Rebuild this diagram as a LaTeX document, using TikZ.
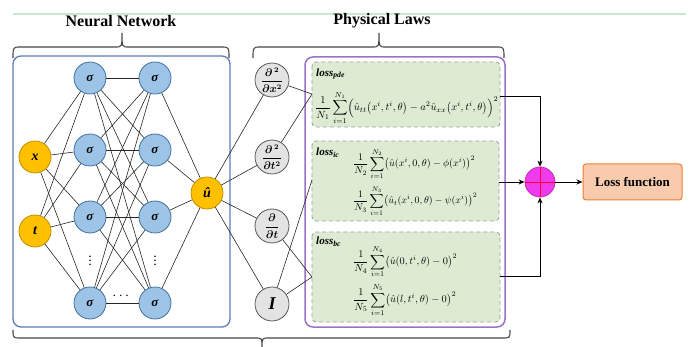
\documentclass[tikz,border=0pt]{standalone}
\usepackage{fontspec}
\setmainfont{Liberation Serif}
\usepackage{amsmath}
\usepackage{graphicx}
\usetikzlibrary{arrows.meta}
\definecolor{yelF}{HTML}{FFC000}
\definecolor{yelB}{HTML}{BF8F00}
\definecolor{sigF}{HTML}{9DC3E6}
\definecolor{sigB}{HTML}{41719C}
\definecolor{gryF}{HTML}{E3E3E3}
\definecolor{gryB}{HTML}{595959}
\definecolor{bluBox}{HTML}{5A7DB5}
\definecolor{purBox}{HTML}{9B72C8}
\definecolor{grnF}{HTML}{DDEBD3}
\definecolor{dashG}{HTML}{A0A0A0}
\definecolor{sumF}{HTML}{EE3BEE}
\definecolor{sumB}{HTML}{C030B0}
\definecolor{lossF}{HTML}{F8CBAD}
\definecolor{lossB}{HTML}{ED7D31}
\definecolor{brcC}{HTML}{454545}
\definecolor{topG}{HTML}{C8E8D2}
\begin{document}
\begin{tikzpicture}[x=1pt,y=-1pt,
  inp/.style={circle,draw=yelB,fill=yelF,line width=0.8pt,minimum size=32pt,inner sep=0pt,font=\fontsize{14}{14}\selectfont\bfseries\itshape},
  sig/.style={circle,draw=sigB,fill=sigF,line width=0.8pt,minimum size=32pt,inner sep=0pt,font=\fontsize{13}{13}\selectfont\bfseries\itshape},
  gnode/.style={circle,draw=gryB,fill=gryF,line width=0.8pt,minimum size=34pt,inner sep=0pt,font=\fontsize{10.5}{10.5}\selectfont\boldmath},
  conn/.style={draw=black!85,line width=0.6pt},
  gbox/.style={draw=dashG,dashed,dash pattern=on 4pt off 3pt,fill=grnF,rounded corners=4pt,line width=0.9pt},
  arr/.style={-{Stealth[length=6pt,width=5pt]},line width=0.9pt,draw=black},
  brc/.style={draw=brcC,line width=1.1pt},
  ttl/.style={font=\fontsize{16}{16}\selectfont\bfseries},
  lbl/.style={anchor=west,font=\fontsize{11}{11}\selectfont\bfseries\itshape,inner sep=0pt},
  frm/.style={anchor=west,inner sep=0pt},
  dots/.style={font=\fontsize{14}{14}\selectfont,inner sep=0pt}
]
\useasboundingbox (0,0) rectangle (693,347);
% top green line
\draw[topG,line width=1.4pt] (13,14) -- (686,14);
% titles
\node[ttl] (tnn) at (121,21) {Neural Network};
\node[ttl] (tpl) at (382,21) {Physical Laws};
% braces
\draw[brc] (13,58) .. controls (13,47) .. (21,47) -- (115,47) .. controls (122,47) .. (122,33)
           .. controls (122,47) .. (129,47) -- (221,47) .. controls (229,47) .. (229,58);
\draw[brc] (253,58) .. controls (253,47) .. (261,47) -- (372,47) .. controls (379,47) .. (379,33)
           .. controls (379,47) .. (386,47) -- (496,47) .. controls (504,47) .. (504,58);
\draw[brc] (13,330) .. controls (13,338) .. (21,338) -- (255,338) .. controls (262,338) .. (262,347)
           .. controls (262,338) .. (269,338) -- (502,338) .. controls (510,338) .. (510,330);
% frames
\draw[bluBox,line width=1.3pt,rounded corners=8pt] (13,56) rectangle (230,327);
\draw[purBox,line width=1.5pt,rounded corners=8pt] (305,57) rectangle (505,327);
% green boxes
\draw[gbox] (312,62) rectangle (500,127);
\draw[gbox] (312,141) rectangle (499,221);
\draw[gbox] (312,232) rectangle (500,322);
% network nodes
\node[inp] (x) at (35,157) {x};
\node[inp] (t) at (35,231) {t};
\foreach \i/\yy in {1/78,2/150,3/217,4/303}{
  \node[sig] (a\i) at (90,\yy) {σ};
  \node[sig] (b\i) at (155,\yy) {σ};
}
\node[dots] (vd1) at (90,258) {$\vdots$};
\node[dots] (vd2) at (155,258) {$\vdots$};
\node[dots] (hd) at (122,296) {$\cdots$};
\node[inp] (u) at (207,193) {û};
\foreach \i in {1,2,3,4}{
  \draw[conn] (x) -- (a\i);
  \draw[conn] (t) -- (a\i);
  \draw[conn] (b\i) -- (u);
  \foreach \j in {1,2,3,4}{ \draw[conn] (a\i) -- (b\j); }
}
% physics nodes
\node[gnode] (dxx) at (272,80) {$\dfrac{\partial^{\,2}}{\partial x^2}$};
\node[gnode] (dtt) at (272,157) {$\dfrac{\partial^{\,2}}{\partial t^2}$};
\node[gnode] (dt) at (272,226) {$\dfrac{\partial}{\partial t}$};
\node[gnode,font=\fontsize{18}{18}\selectfont\bfseries\itshape] (id) at (272,304) {I};
\foreach \n in {dxx,dtt,dt,id}{ \draw[conn] (u) -- (\n); }
\coordinate (P1) at (312,94);
\coordinate (P2) at (312,180);
\coordinate (P3) at (312,277);
\draw[conn] (dxx) -- (P1);
\draw[conn] (dtt) -- (P1);
\draw[conn] (dt) -- (P3);
\draw[conn] (id) -- (P3);
\draw[conn] (id) -- (P2);
% loss labels
\node[lbl] (lp) at (316,74) {loss\textsubscript{pde}};
\node[lbl] (li) at (316,153) {loss\textsubscript{ic}};
\node[lbl] (lb) at (316,242) {loss\textsubscript{bc}};
% formulas
\node[frm] (f1) at (315,108) {\resizebox{183pt}{!}{$\displaystyle \frac{1}{N_1}\sum_{i=1}^{N_1}\Bigl(\hat{u}_{tt}\bigl(x^i,t^i,\theta\bigr)-a^2\hat{u}_{xx}\bigl(x^i,t^i,\theta\bigr)\Bigr)^2$}};
\node[frm] (f2) at (353,164) {\resizebox{122pt}{!}{$\displaystyle \frac{1}{N_2}\sum_{i=1}^{N_2}\bigl(\hat{u}(x^i,0,\theta)-\phi(x^i)\bigr)^2$}};
\node[frm] (f3) at (353,201) {\resizebox{124pt}{!}{$\displaystyle \frac{1}{N_3}\sum_{i=1}^{N_3}\bigl(\hat{u}_t(x^i,0,\theta)-\psi(x^i)\bigr)^2$}};
\node[frm] (f4) at (353,262) {\resizebox{104pt}{!}{$\displaystyle \frac{1}{N_4}\sum_{i=1}^{N_4}\bigl(\hat{u}(0,t^i,\theta)-0\bigr)^2$}};
\node[frm] (f5) at (353,300) {\resizebox{103pt}{!}{$\displaystyle \frac{1}{N_5}\sum_{i=1}^{N_5}\bigl(\hat{u}(l,t^i,\theta)-0\bigr)^2$}};
% sum and loss
\node[circle,draw=sumB,fill=sumF,line width=0.8pt,minimum size=30pt,inner sep=0pt] (sum) at (540,182) {};
\draw[red!80!magenta,line width=0.6pt] (sum.north) -- (sum.south) (sum.west) -- (sum.east);
\node[draw=lossB,fill=lossF,line width=1pt,rounded corners=3pt,minimum width=99pt,minimum height=36pt,font=\fontsize{13}{13}\selectfont\bfseries] (loss) at (632.5,182) {Loss function};
\coordinate (R1) at (500,96);
\coordinate (R2) at (499,182);
\coordinate (R3) at (500,276);
\draw[arr] (R1) -| (sum.north);
\draw[arr] (R2) -- (sum.west);
\draw[arr] (R3) -| (sum.south);
\draw[arr] (sum.east) -- (loss.west);
\end{tikzpicture}
\end{document}
